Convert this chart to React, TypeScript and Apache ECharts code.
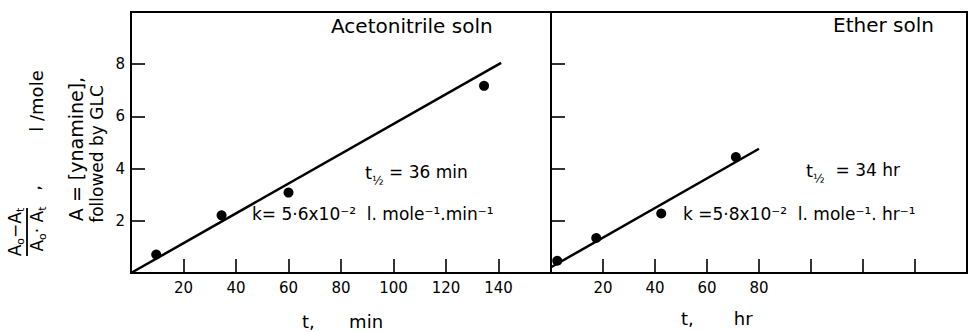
import React, { useEffect, useRef } from "react";
import * as echarts from "echarts";

// ---- data ----
// Acetonitrile solution (t in min)
const acetoT = [9.6, 34.5, 60, 134.5];
const acetoY = [0.71, 2.21, 3.08, 7.17];
const acetoFitT = [0, 141];
const acetoFitY = [0, 8.05];
// Ether solution (t in hr)
const etherT = [2.4, 17.4, 42.4, 71.1];
const etherY = [0.47, 1.34, 2.28, 4.44];
const etherFitT = [0, 80];
const etherFitY = [0.22, 4.76];

// tick labels shown
const leftXLabels = [20, 40, 60, 80, 100, 120, 140];
const rightXLabels = [20, 40, 60, 80];
const yLabels = [2, 4, 6, 8];

const FONT = "'DejaVu Sans', 'Noto Sans', sans-serif";
const INK = "#000";

const zip = (a: number[], b: number[]) => a.map((v, i) => [v, b[i]]);

export default function App() {
  const ref = useRef<HTMLDivElement>(null);

  useEffect(() => {
    if (!ref.current) return;
    const chart = echarts.init(ref.current, null, { renderer: "svg" });

    const axisLine = { show: true, lineStyle: { color: INK, width: 2 } };
    const axisTick = { show: true, inside: true, length: 14, lineStyle: { color: INK, width: 1.6 } };
    const labelStyle = { color: INK, fontSize: 15, fontFamily: FONT };

    const xAxisFor = (grid: number, labels: number[]) => ({
      type: "value",
      gridIndex: grid,
      min: 0,
      max: 160,
      interval: 20,
      axisLine,
      axisTick,
      splitLine: { show: false },
      axisLabel: {
        ...labelStyle,
        margin: 7,
        formatter: (v: number) => (labels.includes(v) ? String(v) : ""),
      },
    });
    const yAxisFor = (grid: number, showLabels: boolean) => ({
      type: "value",
      gridIndex: grid,
      min: 0,
      max: 10,
      interval: 2,
      axisLine,
      axisTick,
      splitLine: { show: false },
      axisLabel: {
        ...labelStyle,
        show: showLabels,
        margin: 6,
        formatter: (v: number) => (yLabels.includes(v) ? String(v) : ""),
      },
    });

    const txt = (x: number, y: number, text: string, size = 17) => ({
      type: "text",
      x,
      y,
      style: {
        text,
        fill: INK,
        fontSize: size,
        fontFamily: FONT,
        align: "left",
        textAlign: "left",
        verticalAlign: "middle",
        textVerticalAlign: "middle",
      },
    });

    const half = (x: number, y: number, rest: string) => ({
      type: "text",
      x,
      y,
      style: {
        text: `{t|t}{h|½}{r|${rest}}`,
        fill: INK,
        fontFamily: FONT,
        align: "left",
        textAlign: "left",
        verticalAlign: "middle",
        textVerticalAlign: "middle",
        rich: {
          t: { fontSize: 18, lineHeight: 30, fontFamily: FONT, fill: INK, verticalAlign: "middle" },
          h: { fontSize: 12, lineHeight: 12, fontFamily: FONT, fill: INK, verticalAlign: "bottom" },
          r: { fontSize: 17, lineHeight: 30, fontFamily: FONT, fill: INK, verticalAlign: "middle" },
        },
      },
    });

    const rot = (x: number, y: number, text: string, extra: any = {}) => ({
      type: "text",
      x,
      y,
      rotation: Math.PI / 2,
      style: {
        text,
        fill: INK,
        fontSize: 18,
        fontFamily: FONT,
        align: "center",
        textAlign: "center",
        verticalAlign: "middle",
        textVerticalAlign: "middle",
        ...extra,
      },
    });

    const subRich = {
      s: { fontSize: 11, lineHeight: 11, fontFamily: FONT, fill: INK, verticalAlign: "bottom" },
    };

    chart.setOption({
      animation: false,
      grid: [
        { left: 131, top: 12, width: 420, height: 261, show: true, borderColor: INK, borderWidth: 2, backgroundColor: "transparent" },
        { left: 551, top: 12, width: 424, height: 261, show: true, borderColor: INK, borderWidth: 2, backgroundColor: "transparent" },
      ],
      xAxis: [xAxisFor(0, leftXLabels), xAxisFor(1, rightXLabels)],
      yAxis: [yAxisFor(0, true), yAxisFor(1, false)],
      series: [
        {
          type: "line",
          xAxisIndex: 0,
          yAxisIndex: 0,
          data: zip(acetoFitT, acetoFitY),
          showSymbol: false,
          lineStyle: { color: INK, width: 2.5 },
          silent: true,
        },
        {
          type: "scatter",
          xAxisIndex: 0,
          yAxisIndex: 0,
          data: zip(acetoT, acetoY),
          symbolSize: 10,
          itemStyle: { color: INK, opacity: 1 },
          z: 3,
        },
        {
          type: "line",
          xAxisIndex: 1,
          yAxisIndex: 1,
          data: zip(etherFitT, etherFitY),
          showSymbol: false,
          lineStyle: { color: INK, width: 2.5 },
          silent: true,
        },
        {
          type: "scatter",
          xAxisIndex: 1,
          yAxisIndex: 1,
          data: zip(etherT, etherY),
          symbolSize: 10,
          itemStyle: { color: INK, opacity: 1 },
          z: 3,
        },
      ],
      graphic: [
        txt(331, 26, "Acetonitrile soln", 20),
        txt(833, 25, "Ether soln", 20),
        half(365, 172, " = 36 min"),
        txt(252, 214, "k= 5·6x10⁻²  l. mole⁻¹.min⁻¹"),
        half(806, 170, "  = 34 hr"),
        txt(683, 214, "k =5·8x10⁻²  l. mole⁻¹. hr⁻¹"),
        txt(302, 321, "t,      min", 18),
        txt(681, 318, "t,       hr", 18),
        // rotated y-axis title
        rot(15, 232, "A{s|o}−A{s|t}", { rich: subRich, lineHeight: 22, fontSize: 17 }),
        {
          type: "line",
          shape: { x1: 27, y1: 208, x2: 27, y2: 256 },
          style: { stroke: INK, lineWidth: 1.8 },
        },
        rot(37, 229, "A{s|o}· A{s|t}", { rich: subRich, lineHeight: 22, fontSize: 17 }),
        rot(33, 188, ","),
        rot(36, 101, "l /mole"),
        rot(76, 149, "A = [ynamine],", { fontSize: 19 }),
        rot(97, 154, "followed by GLC", { fontSize: 17 }),
      ],
    });

    return () => chart.dispose();
  }, []);

  return (
    <div
      ref={ref}
      style={{ position: "fixed", left: 0, top: 0, width: 970, height: 332, background: "#fff" }}
    />
  );
}
